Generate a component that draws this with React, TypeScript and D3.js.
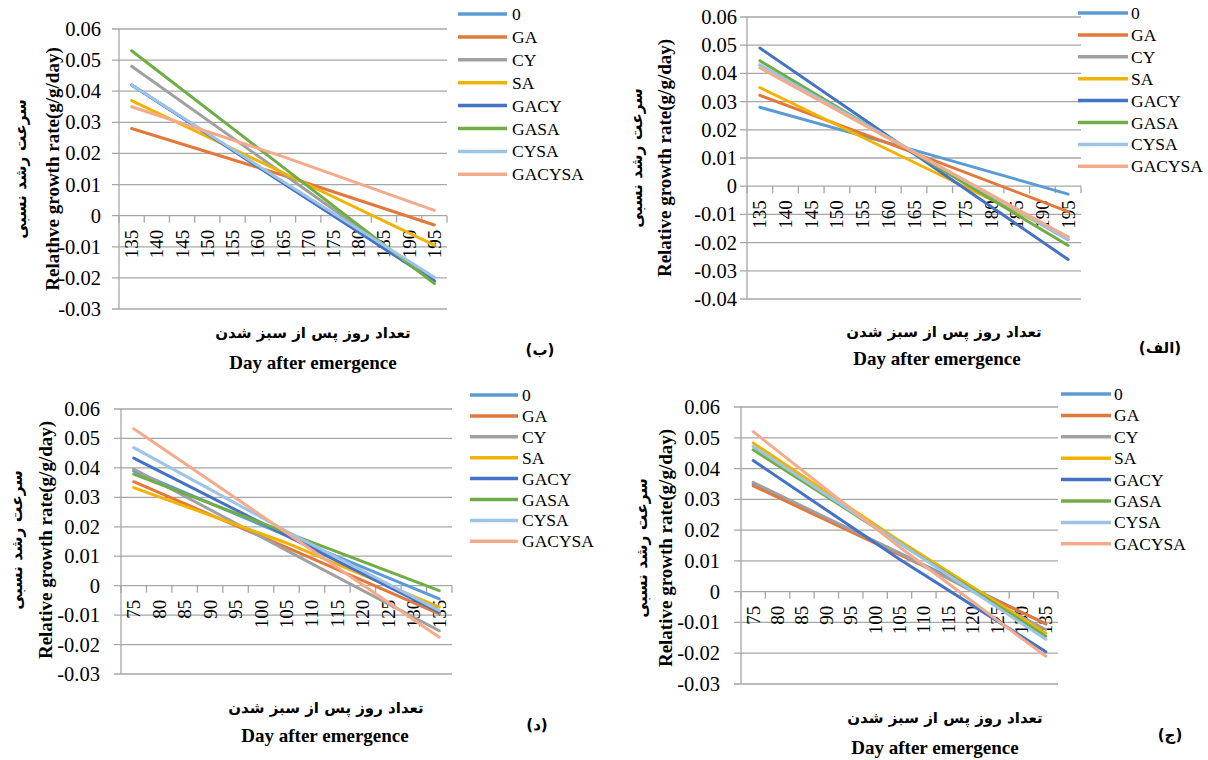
import React from 'react';
import * as d3 from 'd3';

// ---------- data ----------
const seriesNames = ['0', 'GA', 'CY', 'SA', 'GACY', 'GASA', 'CYSA', 'GACYSA'];

const lateDays = [135, 140, 145, 150, 155, 160, 165, 170, 175, 180, 185, 190, 195];
const earlyDays = [75, 80, 85, 90, 95, 100, 105, 110, 115, 120, 125, 130, 135];

const ticksA = [0.06, 0.05, 0.04, 0.03, 0.02, 0.01, 0, -0.01, -0.02, -0.03];
const ticksB = [0.06, 0.05, 0.04, 0.03, 0.02, 0.01, 0, -0.01, -0.02, -0.03, -0.04];

// panel (ب): sampled days and values per series (order of seriesNames)
const beDays = [135, 165, 195];
const beValues = [
  [0.042, 0.0105, -0.021],
  [0.028, 0.013, -0.003],
  [0.048, 0.0135, -0.021],
  [0.037, 0.0138, -0.0095],
  [0.042, 0.0105, -0.021],
  [0.053, 0.0156, -0.0218],
  [0.042, 0.011, -0.0198],
  [0.035, 0.019, 0.0017],
];

// panel (الف)
const alefDays = [135, 165, 195];
const alefValues = [
  [0.028, 0.0128, -0.0028],
  [0.0322, 0.0118, -0.009],
  [0.043, 0.012, -0.019],
  [0.035, 0.0085, -0.018],
  [0.049, 0.0115, -0.026],
  [0.0445, 0.0118, -0.021],
  [0.043, 0.0122, -0.0188],
  [0.042, 0.012, -0.018],
];

// panel (د)
const dalDays = [75, 105, 135];
const dalValues = [
  [0.039, 0.017, -0.0045],
  [0.0353, 0.013, -0.0096],
  [0.0396, 0.012, -0.0153],
  [0.0333, 0.0145, -0.0073],
  [0.0433, 0.017, -0.009],
  [0.0379, 0.018, -0.0017],
  [0.0469, 0.0185, -0.0085],
  [0.0533, 0.018, -0.0175],
];

// panel (ج)
const jimDays = [75, 105, 135];
const jimValues = [
  [0.035, 0.0125, -0.0105],
  [0.0344, 0.012, -0.0104],
  [0.0355, 0.0125, -0.0123],
  [0.0483, 0.0165, -0.0135],
  [0.0426, 0.0105, -0.0195],
  [0.0461, 0.0158, -0.0145],
  [0.0472, 0.0158, -0.0155],
  [0.052, 0.0145, -0.021],
];

// ---------- style ----------
const colors = ['#5B9BD5', '#E2783A', '#A0A0A0', '#F0B400', '#4472C4', '#70AD47', '#9DC3E6', '#F4AB8C'];
const serif = "'Liberation Serif', 'DejaVu Serif', serif";
const persian = "'DejaVu Sans', sans-serif";
const gridColor = '#A6A6A6';

const faTitleY = 'سرعت رشد نسبی';
const faTitleX = 'تعداد روز پس از سبز شدن';
const enTitleX = 'Day after emergence';

type Cfg = {
  cats: number[]; days: number[]; values: number[][]; ticks: number[];
  left: number; right: number; top: number; bottom: number; labelRight: number;
  legX1: number; legX2: number; legText: number; legY0: number; legStep: number;
  faYx: number; enYx: number; yTitleC: number;
  xTitleFaY: number; xTitleFaX: number; xTitleEnY: number; xTitleEnX: number;
  enY: string; tag: string; tagX: number; tagY: number;
};

const panels: Cfg[] = [
  {
    cats: lateDays, days: beDays, values: beValues, ticks: ticksA,
    left: 119, right: 447, top: 29, bottom: 309, labelRight: 101,
    legX1: 458, legX2: 507, legText: 512, legY0: 14, legStep: 22.9,
    faYx: 21, enYx: 52, yTitleC: 169,
    xTitleFaY: 333, xTitleFaX: 313, xTitleEnY: 362, xTitleEnX: 313,
    enY: 'Relathve growth rate(g/g/day)', tag: '(ب)', tagX: 540, tagY: 350,
  },
  {
    cats: lateDays, days: alefDays, values: alefValues, ticks: ticksB,
    left: 747, right: 1081, top: 17, bottom: 299, labelRight: 737,
    legX1: 1078, legX2: 1128, legText: 1131, legY0: 13, legStep: 21.9,
    faYx: 637, enYx: 664, yTitleC: 158,
    xTitleFaY: 332, xTitleFaX: 944, xTitleEnY: 358, xTitleEnX: 937,
    enY: 'Relative growth rate(g/g/day)', tag: '(الف)', tagX: 1160, tagY: 348,
  },
  {
    cats: earlyDays, days: dalDays, values: dalValues, ticks: ticksA,
    left: 121, right: 452, top: 409, bottom: 674, labelRight: 100,
    legX1: 470, legX2: 518, legText: 522, legY0: 395, legStep: 20.9,
    faYx: 17, enYx: 45, yTitleC: 540,
    xTitleFaY: 708, xTitleFaX: 326, xTitleEnY: 735, xTitleEnX: 325,
    enY: 'Relative growth rate(g/g/day)', tag: '(د)', tagX: 537, tagY: 725,
  },
  {
    cats: earlyDays, days: jimDays, values: jimValues, ticks: ticksA,
    left: 741, right: 1058, top: 407, bottom: 684, labelRight: 720,
    legX1: 1061, legX2: 1111, legText: 1114, legY0: 394, legStep: 21.4,
    faYx: 642, enYx: 665, yTitleC: 548,
    xTitleFaY: 718, xTitleFaX: 945, xTitleEnY: 747, xTitleEnX: 935,
    enY: 'Relative growth rate(g/g/day)', tag: '(ج)', tagX: 1170, tagY: 735,
  },
];

const fmt = (v: number) => (Math.abs(v) < 1e-9 ? '0' : v.toFixed(2));

const serifStyle = (size: number, bold = false): React.CSSProperties => ({
  fontFamily: serif, fontSize: size, fontWeight: bold ? 'bold' : 'normal',
});
const faStyle = (size: number): React.CSSProperties => ({
  fontFamily: persian, fontSize: size, fontWeight: 'bold',
});

function Panel({ c }: { c: Cfg }) {
  const x = d3.scaleBand<number>().domain(c.cats).range([c.left, c.right]).padding(0);
  const bw = x.bandwidth();
  const y = d3.scaleLinear().domain([d3.min(c.ticks)!, d3.max(c.ticks)!]).range([c.bottom, c.top]);
  const cx = (d: number) => (x(d) as number) + bw / 2;
  const line = d3.line<[number, number]>().x((p) => cx(p[0])).y((p) => y(p[1]));
  const y0 = y(0);
  const bounds = d3.range(c.cats.length + 1).map((i) => c.left + i * bw);

  return (
    <g>
      {c.ticks.map((t) => (
        <g key={'g' + t}>
          <line x1={c.left - 7} x2={c.right} y1={y(t)} y2={y(t)} stroke={gridColor} strokeWidth={1.3} />
          <text x={c.labelRight} y={y(t)} textAnchor="end" dominantBaseline="central"
            style={serifStyle(20.5)} fill="#000">{fmt(t)}</text>
        </g>
      ))}
      <line x1={c.left} x2={c.left} y1={c.top} y2={c.bottom} stroke={gridColor} strokeWidth={1.3} />
      {bounds.map((b, i) => (
        <line key={'t' + i} x1={b} x2={b} y1={y0} y2={y0 + 7} stroke={gridColor} strokeWidth={1.3} />
      ))}
      {c.cats.map((d) => (
        <text key={'x' + d} transform={`translate(${cx(d)},${y0 + 14}) rotate(-90)`}
          textAnchor="end" dominantBaseline="central" style={serifStyle(19)} fill="#000">{d}</text>
      ))}
      {c.values.map((vals, i) => (
        <path key={'s' + i} d={line(c.days.map((d, k) => [d, vals[k]] as [number, number])) || ''}
          fill="none" stroke={colors[i]} strokeWidth={3} strokeLinecap="round" />
      ))}
      {seriesNames.map((n, i) => (
        <g key={'l' + n}>
          <line x1={c.legX1} x2={c.legX2} y1={c.legY0 + i * c.legStep} y2={c.legY0 + i * c.legStep}
            stroke={colors[i]} strokeWidth={3.5} />
          <text x={c.legText} y={c.legY0 + i * c.legStep} dominantBaseline="central"
            style={serifStyle(17.5)} fill="#000">{n}</text>
        </g>
      ))}
      <text transform={`translate(${c.faYx},${c.yTitleC}) rotate(-90)`} textAnchor="middle"
        dominantBaseline="central" style={faStyle(15.5)} fill="#000">{faTitleY}</text>
      <text transform={`translate(${c.enYx},${c.yTitleC}) rotate(-90)`} textAnchor="middle"
        dominantBaseline="central" style={serifStyle(19, true)} fill="#000">{c.enY}</text>
      <text x={c.xTitleFaX} y={c.xTitleFaY} textAnchor="middle" dominantBaseline="central"
        style={faStyle(15)} fill="#000">{faTitleX}</text>
      <text x={c.xTitleEnX} y={c.xTitleEnY} textAnchor="middle" dominantBaseline="central"
        style={serifStyle(19, true)} fill="#000">{enTitleX}</text>
      <text x={c.tagX} y={c.tagY} textAnchor="middle" dominantBaseline="central"
        style={faStyle(15)} fill="#000">{c.tag}</text>
    </g>
  );
}

export default function App() {
  return (
    <svg width={1208} height={760} style={{ position: 'absolute', left: 0, top: 0, background: '#fff' }}>
      <rect width={1208} height={760} fill="#fff" />
      {panels.map((p, i) => <Panel key={i} c={p} />)}
    </svg>
  );
}
